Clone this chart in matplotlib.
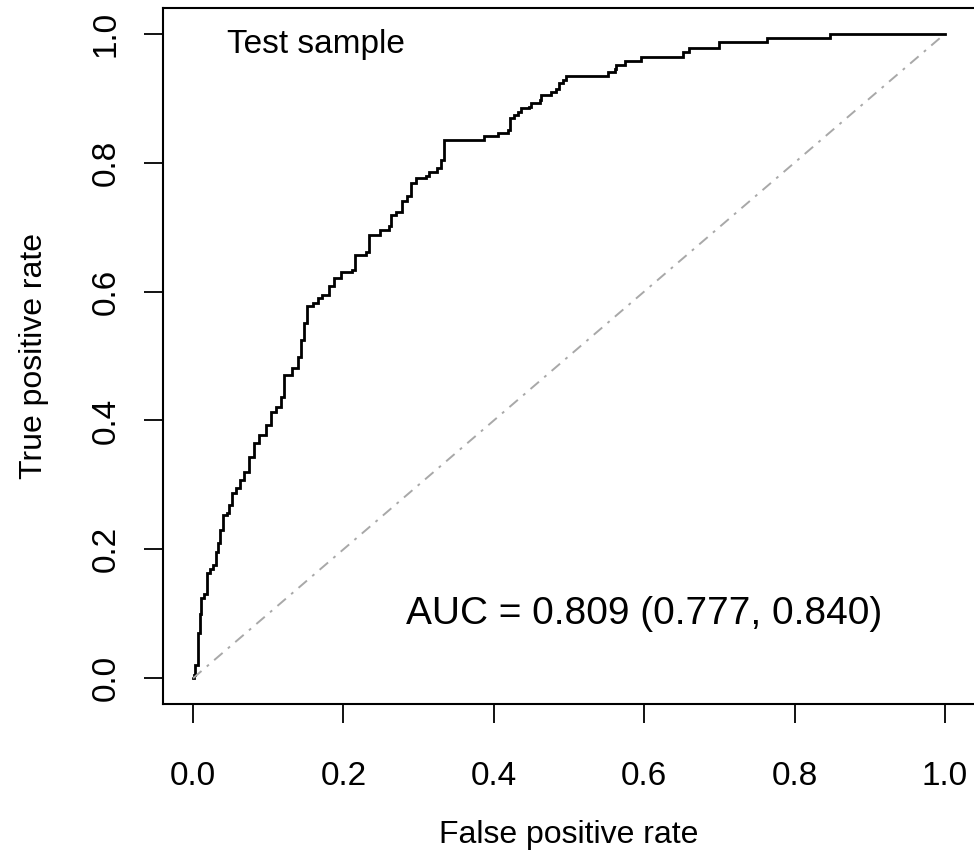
import matplotlib
matplotlib.use("Agg")
import matplotlib.pyplot as plt

plt.rcParams['font.family'] = ['Liberation Sans', 'DejaVu Sans']
plt.rcParams['lines.scale_dashes'] = False

# ROC curve (step corners: fpr where tpr rises to the given value)
fpr = [0.0, 0.001, 0.003, 0.006, 0.009, 0.011, 0.015, 0.018, 0.022, 0.026,
       0.030, 0.033, 0.036, 0.040, 0.045, 0.048, 0.052, 0.057, 0.062, 0.068,
       0.074, 0.081, 0.088, 0.097, 0.103, 0.110, 0.117, 0.121, 0.132, 0.139,
       0.143, 0.148, 0.152, 0.159, 0.166, 0.172, 0.181, 0.188, 0.197, 0.212,
       0.216, 0.230, 0.234, 0.248, 0.261, 0.263, 0.270, 0.278, 0.285, 0.290,
       0.296, 0.310, 0.314, 0.325, 0.330, 0.334, 0.387, 0.405, 0.419, 0.421,
       0.427, 0.432, 0.436, 0.447, 0.449, 0.461, 0.463, 0.476, 0.483, 0.487,
       0.492, 0.496, 0.552, 0.561, 0.563, 0.574, 0.596, 0.651, 0.660, 0.700,
       0.763, 0.847, 1.0]
tpr = [0.0, 0.005, 0.020, 0.070, 0.100, 0.125, 0.130, 0.163, 0.170, 0.175,
       0.196, 0.210, 0.230, 0.253, 0.256, 0.269, 0.287, 0.295, 0.307, 0.320,
       0.343, 0.365, 0.377, 0.393, 0.413, 0.421, 0.437, 0.470, 0.481, 0.499,
       0.525, 0.551, 0.577, 0.583, 0.590, 0.595, 0.608, 0.621, 0.631, 0.634,
       0.657, 0.662, 0.688, 0.696, 0.701, 0.719, 0.724, 0.740, 0.748, 0.768,
       0.776, 0.779, 0.786, 0.791, 0.804, 0.835, 0.841, 0.846, 0.851, 0.869,
       0.874, 0.879, 0.885, 0.887, 0.893, 0.897, 0.905, 0.910, 0.915, 0.923,
       0.928, 0.935, 0.941, 0.946, 0.952, 0.957, 0.964, 0.971, 0.978, 0.987,
       0.993, 1.000, 1.000]

diag = [0.0, 1.0]
ticks = [0.0, 0.2, 0.4, 0.6, 0.8, 1.0]
tick_labels = ["0.0", "0.2", "0.4", "0.6", "0.8", "1.0"]
auc_text = "AUC = 0.809 (0.777, 0.840)"
title_text = "Test sample"

fig = plt.figure(figsize=(9.74, 8.57), dpi=100)
ax = fig.add_axes([163 / 974, 1 - 704 / 857, 812 / 974, 696 / 857])

ax.plot(fpr, tpr, color='black', lw=2.0, drawstyle='steps-post',
        solid_joinstyle='miter')
ln, = ax.plot(diag, diag, color='#a8a8a8', lw=1.4)
ln.set_dashes([8, 5, 2, 5])

ax.set_xlim(-0.04, 1.04)
ax.set_ylim(-0.04, 1.04)
ax.set_xticks(ticks)
ax.set_xticklabels(tick_labels)
ax.set_yticks(ticks)
ax.set_yticklabels(tick_labels, rotation=90, va='center')
ax.tick_params(axis='both', direction='out', length=14, width=1.3,
               labelsize=24, color='black')
ax.tick_params(axis='x', pad=27)
ax.tick_params(axis='y', pad=16)
for s in ax.spines.values():
    s.set_linewidth(1.5)

ax.set_xlabel("False positive rate", fontsize=23, labelpad=20)
ax.set_ylabel("True positive rate", fontsize=23, labelpad=30)

ax.text(0.164, 0.983, title_text, fontsize=24, ha='center', va='center')
ax.text(0.6, 0.1, auc_text, fontsize=28, ha='center', va='center')

fig.savefig("out.png", dpi=100)
